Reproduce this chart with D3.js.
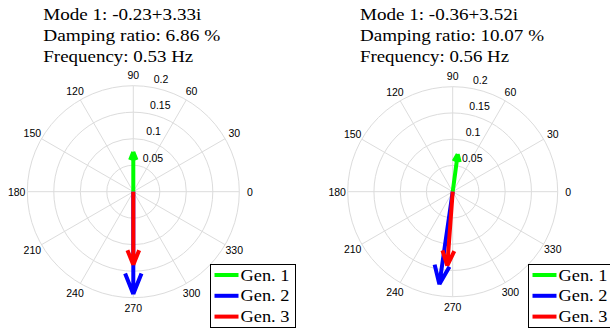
<!DOCTYPE html>
<html>
<head>
<meta charset="utf-8">
<script src="https://cdn.jsdelivr.net/npm/d3@7"></script>
<style>
  html, body { margin: 0; padding: 0; background: #fff; }
  svg { display: block; }
</style>
</head>
<body>
<svg id="chart" width="610" height="331"></svg>
<script>
// Mode-shape compass plots for two operating cases
const generators = ["Gen. 1", "Gen. 2", "Gen. 3"];
const genColors = ["#00ff00", "#0000ff", "#ff0000"];

const titlesA = ["Mode 1: -0.23+3.33i", "Damping ratio: 6.86 %", "Frequency: 0.53 Hz"];
const titlesB = ["Mode 1: -0.36+3.52i", "Damping ratio: 10.07 %", "Frequency: 0.56 Hz"];

// magnitude and phase (degrees) of each generator's participation
const magnitudeA = [0.075, 0.193, 0.138];
const angleA = [90, 270, 270];
const magnitudeB = [0.072, 0.178, 0.141];
const angleB = [82.4, 261.8, 265.8];

const radialTicks = [0.05, 0.1, 0.15, 0.2];
const angleTicks = [0, 30, 60, 90, 120, 150, 180, 210, 240, 270, 300, 330];

// set widths for the serif title lines (wide typeset look)
const titleWidthsA = [158, 177, 150];
const titleWidthsB = [158, 184, 149];

const svg = d3.select("#chart");
const serif = "'Liberation Serif', 'DejaVu Serif', serif";
const sans = "'Liberation Sans', Arial, sans-serif";

function panel(cx, cy, R, titles, widths, mags, angs, titleX, legendX) {
  const g = svg.append("g");
  const r = d3.scaleLinear().domain([0, 0.2]).range([0, R]);
  const pt = (m, a) => [cx + r(m) * Math.cos(a * Math.PI / 180), cy - r(m) * Math.sin(a * Math.PI / 180)];

  // title lines
  g.selectAll("text.title").data(titles).join("text")
    .attr("class", "title")
    .attr("x", titleX)
    .attr("y", (d, i) => 19.5 + i * 21.3)
    .attr("font-family", serif)
    .attr("font-size", 17)
    .attr("fill", "#000")
    .attr("textLength", (d, i) => widths[i])
    .attr("lengthAdjust", "spacingAndGlyphs")
    .text(d => d);

  // grid rings
  g.selectAll("circle.ring").data(radialTicks).join("circle")
    .attr("cx", cx).attr("cy", cy).attr("r", d => r(d))
    .attr("fill", "none").attr("stroke", "#dcdcdc").attr("stroke-width", 1);

  // spokes across the full diameter
  g.selectAll("line.spoke").data(angleTicks.slice(0, 6)).join("line")
    .attr("x1", d => pt(0.2, d + 180)[0]).attr("y1", d => pt(0.2, d + 180)[1])
    .attr("x2", d => pt(0.2, d)[0]).attr("y2", d => pt(0.2, d)[1])
    .attr("stroke", "#dcdcdc").attr("stroke-width", 1);

  // angle labels
  g.selectAll("text.ang").data(angleTicks).join("text")
    .attr("x", d => pt(0.22, d)[0])
    .attr("y", d => pt(0.22, d)[1])
    .attr("text-anchor", "middle")
    .attr("dominant-baseline", "central")
    .attr("font-family", sans).attr("font-size", 10.5)
    .text(d => d);

  // radial labels along the 82 degree direction
  const c82 = Math.cos(82 * Math.PI / 180), s82 = Math.sin(82 * Math.PI / 180);
  g.selectAll("text.rad").data(radialTicks).join("text")
    .attr("x", d => cx + r(d + 0.0025) * c82 + 5.5)
    .attr("y", d => cy - r(d + 0.0025) * s82 - 2.5)
    .attr("font-family", sans).attr("font-size", 10.5)
    .text(d => d);

  // compass arrows: shaft plus two barbs at 80% length, +-8% width
  const arrows = mags.map((m, i) => ({ m, a: angs[i], color: genColors[i] }));
  g.selectAll("path.arrow").data(arrows).join("path")
    .attr("d", d => {
      const th = d.a * Math.PI / 180;
      const L = r(d.m);
      const ux = Math.cos(th), uy = -Math.sin(th);
      const vx = -uy, vy = ux;
      const tip = [cx + ux * L, cy + uy * L];
      const b1 = [cx + ux * 0.8 * L + vx * 0.08 * L, cy + uy * 0.8 * L + vy * 0.08 * L];
      const b2 = [cx + ux * 0.8 * L - vx * 0.08 * L, cy + uy * 0.8 * L - vy * 0.08 * L];
      return `M${cx},${cy}L${tip}L${b1}M${tip}L${b2}`;
    })
    .attr("fill", "none")
    .attr("stroke", d => d.color)
    .attr("stroke-width", 4)
    .attr("stroke-linejoin", "miter")
    .attr("stroke-linecap", "butt");

  // legend
  const lg = g.append("g").attr("transform", `translate(${legendX},264.5)`);
  lg.append("rect").attr("x", 0).attr("y", 0).attr("width", 85).attr("height", 63)
    .attr("fill", "#fff").attr("stroke", "#000").attr("stroke-width", 1);
  const rows = lg.selectAll("g.row").data(generators).join("g")
    .attr("transform", (d, i) => `translate(0,${10.5 + i * 20.8})`);
  rows.append("line").attr("x1", 4).attr("x2", 28).attr("y1", 0).attr("y2", 0)
    .attr("stroke", (d, i) => genColors[i]).attr("stroke-width", 4);
  rows.append("text").attr("x", 30).attr("y", 5.5)
    .attr("font-family", serif).attr("font-size", 17)
    .attr("textLength", 49).attr("lengthAdjust", "spacingAndGlyphs")
    .text(d => d);
}

panel(133.3, 191.7, 106, titlesA, titleWidthsA, magnitudeA, angleA, 43.3, 210.5);
panel(452.7, 191.7, 105, titlesB, titleWidthsB, magnitudeB, angleB, 360, 528.5);
</script>
</body>
</html>
